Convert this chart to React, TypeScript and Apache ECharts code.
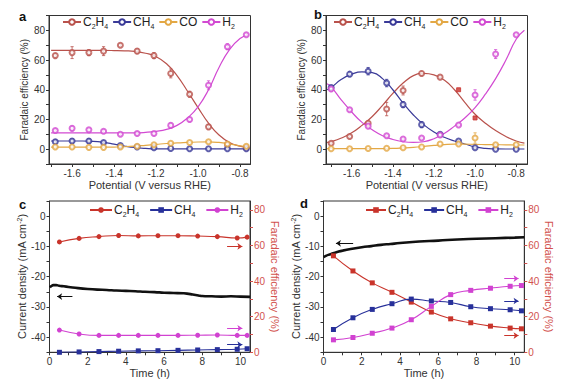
import React, { useEffect, useRef } from 'react';
import * as echarts from 'echarts';

// ---------- Panel a ----------
const aPot = [-1.68, -1.60, -1.52, -1.45, -1.37, -1.29, -1.21, -1.13, -1.04, -0.95, -0.86, -0.77];
const aC2H4 = [63, 65, 65, 66, 70, 66, 63, 51, 37, 15, 3, 1];
const aC2H4Err = [1.5, 4, 2, 3, 1, 1.5, 2, 3, 2, 1.5, 1, 1];
const aCH4 = [5, 5.5, 5.5, 4.5, 2.5, 1.5, 1, 0.5, 0.3, 0.3, 0.3, 0.3];
const aCH4Err = [1.5, 1.5, 1.5, 1, 0.5, 0.5, 0, 0, 0, 0, 0, 0];
const aCO = [1.5, 1.5, 1.2, 1.2, 1.5, 2, 3, 4, 4.5, 5, 3.5, 2];
const aH2 = [12.5, 14, 13, 12, 10, 10.5, 10.5, 16, 20, 43, 69, 77];
const aH2Err = [1, 1.5, 1, 1, 1, 1, 1, 1.5, 1.5, 3, 2, 1];
const aFitX = [-1.70, -1.65, -1.60, -1.55, -1.50, -1.45, -1.40, -1.35, -1.30, -1.25, -1.20, -1.15, -1.10, -1.05, -1.00, -0.95, -0.90, -0.85, -0.80, -0.76];
const aFitC2H4 = [66.5, 66.5, 66.5, 66.5, 66.5, 66.5, 66.4, 66.2, 65.8, 64.6, 62.3, 57.5, 49.5, 39, 28, 17.5, 9.5, 4.5, 2, 1];
const aFitCH4 = [5.5, 5.5, 5.5, 5.5, 5.3, 4.6, 3.4, 2.1, 1.1, 0.5, 0.2, 0.2, 0.2, 0.2, 0.2, 0.2, 0.2, 0.2, 0.2, 0.2];
const aFitCO = [1.3, 1.3, 1.3, 1.3, 1.3, 1.3, 1.4, 1.6, 2.0, 2.6, 3.2, 3.8, 4.2, 4.5, 4.8, 4.9, 4.5, 3.5, 2.2, 1.5];
const aFitH2 = [11, 11, 11, 11, 11, 11, 11, 11, 11, 11.3, 12, 13.3, 16, 21, 28.5, 40, 55, 67, 74.5, 77];

// ---------- Panel b ----------
const bPot = [-1.70, -1.61, -1.52, -1.43, -1.35, -1.26, -1.17, -1.08, -1.00, -0.90, -0.80];
const bC2H4 = [4, 8.5, 17.5, 27, 39.5, 51, 48.5, null, null, null, null];
const bC2H4Solid = [null, null, null, null, null, null, null, 40, 21, null, null];
const bC2H4Err = [0.5, 1, 1, 4.5, 3, 1.5, 1, 0, 0, 0, 0];
const bCH4 = [41.5, 50.5, 52.5, 44.5, 30, 16.5, 10, 5.5, 1, 0, 0];
const bCH4Err = [1.5, 1.5, 2.5, 2.5, 2, 2, 1, 0.5, 0.5, 0, 0];
const bCO = [0.3, 0.3, 0.4, 0.6, 1, 1.5, 3.5, 3.5, 7.5, 3, 3];
const bCOErr = [0, 0, 0, 0, 0, 0, 0, 0, 3.5, 0, 0];
const bH2 = [40.5, 26.5, 15.5, 9, 6.8, 7.5, 9.5, 16.3, 36.5, 64, 77];
const bH2Err = [1.5, 1, 1, 0.5, 0.5, 0.5, 0.5, 0.5, 3.5, 3, 0.5];
const bFitX = [-1.72, -1.70, -1.65, -1.60, -1.55, -1.50, -1.45, -1.40, -1.35, -1.30, -1.25, -1.20, -1.15, -1.10, -1.05, -1.00, -0.95, -0.90, -0.85, -0.80, -0.76];
const bFitC2H4 = [4.5, 5, 7.5, 11, 16, 22, 29.5, 37.5, 44.5, 49.5, 51, 50, 46.5, 40, 31.5, 23.5, 17.5, 12.5, 8.5, 5.5, 4];
const bFitCH4 = [40, 41.5, 47, 50.5, 52, 51.5, 47.5, 40, 31, 23, 16.5, 11.5, 8, 5.5, 3.5, 1.5, 0.5, 0.2, 0.1, 0.1, 0.1];
const bFitCO = [0.3, 0.3, 0.3, 0.3, 0.3, 0.4, 0.4, 0.5, 0.8, 1.2, 1.8, 2.5, 3.1, 3.4, 3.4, 3.2, 3.1, 3.0, 2.9, 2.8, 2.8];
const bFitH2 = [44, 42, 33, 25, 18, 13, 9, 6.5, 5, 4.5, 5, 7, 10.5, 15.5, 21, 28, 37, 47.5, 60, 74, 80];

// ---------- Panel c ----------
const cTime = [0.52, 1.55, 2.59, 3.62, 4.65, 5.68, 6.73, 7.76, 8.79, 9.83, 10.35];
const cC2H4 = [62, 64, 65, 65.6, 65.4, 65.5, 65.5, 65.3, 65, 64.2, 64.7];
const cCH4 = [0, 0.2, 0.4, 0.6, 0.8, 0.9, 1.1, 1.3, 1.5, 1.7, 2];
const cH2 = [12.5, 10.3, 9.5, 9.5, 9.5, 9.5, 9.5, 9.6, 9.7, 9.5, 9.5];
const cCurT = [0.02, 0.1, 0.2, 0.35, 0.5, 0.75, 1, 1.5, 2, 2.5, 3, 3.5, 4, 4.5, 5, 5.5, 6, 6.5, 7, 7.2, 7.5, 7.8, 8, 8.5, 9, 9.5, 10, 10.5];
const cCur = [-23.6, -23.1, -22.8, -22.8, -23.0, -23.2, -23.4, -23.8, -24.1, -24.3, -24.4, -24.6, -24.7, -24.8, -25.0, -25.1, -25.3, -25.4, -25.5, -25.6, -25.9, -26.2, -26.4, -26.5, -26.6, -26.5, -26.6, -26.7];

// ---------- Panel d ----------
const dTime = [0.52, 1.54, 2.55, 3.58, 4.59, 5.64, 6.65, 7.7, 8.73, 9.76, 10.35];
const dC2H4 = [54.2, 45.7, 39, 33.7, 28.2, 22.6, 18.8, 16.6, 14.7, 13.6, 13.2];
const dCH4 = [12.8, 19.4, 24.1, 27.3, 29.9, 28.8, 28, 25.6, 24.5, 23.9, 23.3];
const dH2 = [7, 8.3, 10.7, 13.6, 18.3, 25.8, 32.4, 34.8, 36, 37.1, 37.5];
const dCurT = [0, 0.1, 0.25, 0.5, 0.75, 1, 1.5, 2, 2.5, 3, 3.5, 4, 5, 6, 7, 8, 9, 10, 10.5];
const dCur = [-13.5, -13.2, -12.8, -12.3, -11.8, -11.4, -10.8, -10.3, -9.9, -9.5, -9.2, -8.9, -8.4, -8.1, -7.7, -7.5, -7.3, -7.1, -7.0];

// ---------- Tick labels ----------
const potLabels = [-1.6, -1.4, -1.2, -1.0, -0.8];
const potTicks = [-1.7, -1.6, -1.5, -1.4, -1.3, -1.2, -1.1, -1.0, -0.9, -0.8];
const feLabels = [0, 20, 40, 60, 80];
const feTicks = [-10, 0, 10, 20, 30, 40, 50, 60, 70, 80, 90];
const timeLabels = [0, 2, 4, 6, 8, 10];
const timeTicks = [0, 1, 2, 3, 4, 5, 6, 7, 8, 9, 10];
const curLabels = [-40, -30, -20, -10, 0];
const curTicks = [-45, -40, -35, -30, -25, -20, -15, -10, -5, 0, 5];
const feRLabels = [0, 20, 40, 60, 80];
const feRTicks = [0, 10, 20, 30, 40, 50, 60, 70, 80];

const FONT = '"Liberation Sans", Arial, Helvetica, sans-serif';
const AX = '#333';
const RED_A = '#b9524c';
const BLUE_A = '#3a3a98';
const ORANGE = '#e3a845';
const MAG = '#d24ad2';
const RED_C = '#c9342b';
const BLUE_C = '#27309a';
const MAG_C = '#d142d1';
const RIGHT_RED = '#d2524e';

const pairs = (xs: number[], ys: (number | null)[]) =>
  xs.map((x, i) => [x, ys[i]]).filter((p) => p[1] !== null && p[1] !== undefined);
const errs = (xs: number[], ys: (number | null)[], es: number[]) =>
  xs
    .map((x, i) => (ys[i] === null || !es[i] ? null : [x, (ys[i] as number) - es[i], (ys[i] as number) + es[i]]))
    .filter((p) => p !== null);

function errRender(color: string) {
  return (params: any, api: any) => {
    const x = api.value(0);
    const a = api.coord([x, api.value(1)]);
    const b = api.coord([x, api.value(2)]);
    const w = 1.6;
    const st = { stroke: color, lineWidth: 0.8 };
    return {
      type: 'group',
      children: [
        { type: 'line', shape: { x1: a[0], y1: a[1], x2: b[0], y2: b[1] }, style: st },
        { type: 'line', shape: { x1: a[0] - w, y1: a[1], x2: a[0] + w, y2: a[1] }, style: st },
        { type: 'line', shape: { x1: b[0] - w, y1: b[1], x2: b[0] + w, y2: b[1] }, style: st },
      ],
    };
  };
}

const labelName = (name: string) => {
  const k = name.slice(1);
  if (k === 'C2H4') return 'C{s|2}H{s|4}';
  if (k === 'CH4') return 'CH{s|4}';
  if (k === 'H2') return 'H{s|2}';
  return k;
};

function legend(prefix: string, keys: string[], left: number, top: number, itemWidth: number, itemGap: number) {
  return {
    data: keys.map((k) => prefix + k),
    left,
    top,
    orient: 'horizontal',
    itemWidth,
    itemHeight: 7,
    itemGap,
    padding: 0,
    formatter: labelName,
    selectedMode: false,
    textStyle: {
      fontFamily: FONT,
      fontSize: 12,
      color: '#222',
      padding: [0, 0, 0, -3],
      rich: { s: { fontFamily: FONT, fontSize: 7, color: '#222', verticalAlign: 'bottom', lineHeight: 16 } },
    },
  };
}

function xAx(grid: number, min: number, max: number, labels: number[], ticks: number[], name: string, fmt: (v: number) => string) {
  return {
    type: 'value',
    gridIndex: grid,
    min,
    max,
    name,
    nameLocation: 'middle',
    nameGap: 15,
    nameTextStyle: { fontFamily: FONT, fontSize: 11, color: '#333' },
    axisLine: { show: true, onZero: false, lineStyle: { color: AX, width: 1 } },
    axisTick: { show: true, length: 3, customValues: ticks, lineStyle: { color: AX } },
    axisLabel: { customValues: labels, formatter: fmt, margin: 4, fontFamily: FONT, fontSize: 10, color: '#333' },
    splitLine: { show: false },
  };
}

function yAx(grid: number, min: number, max: number, labels: number[], ticks: number[], name: any, opts: any = {}) {
  const color = opts.color || '#333';
  return {
    type: 'value',
    gridIndex: grid,
    min,
    max,
    position: opts.position || 'left',
    name,
    nameLocation: 'middle',
    nameGap: opts.nameGap || 18,
    nameRotate: opts.nameRotate,
    nameTextStyle: {
      fontFamily: FONT,
      fontSize: opts.nameSize || 10,
      color: opts.nameColor || '#333',
      rich: { sup: { fontFamily: FONT, fontSize: 7, color: opts.nameColor || '#333', verticalAlign: 'top', lineHeight: 10 } },
    },
    axisLine: { show: true, onZero: false, lineStyle: { color: opts.lineColor || AX, width: 1 } },
    axisTick: { show: true, length: 3, customValues: ticks, lineStyle: { color: opts.tickColor || AX } },
    axisLabel: { customValues: labels, margin: 4, fontFamily: FONT, fontSize: 10, color },
    splitLine: { show: false },
  };
}

function fitLine(name: string, xi: number, yi: number, xs: number[], ys: number[], color: string) {
  return {
    type: 'line',
    name,
    xAxisIndex: xi,
    yAxisIndex: yi,
    data: pairs(xs, ys),
    smooth: true,
    symbol: 'emptyCircle',
    symbolSize: 5,
    showSymbol: false,
    lineStyle: { color, width: 1.2 },
    itemStyle: { color, borderColor: color, borderWidth: 1 },
    z: 2,
  };
}

function pts(name: string, xi: number, yi: number, xs: number[], ys: (number | null)[], color: string, symbol = 'emptyCircle', size = 5) {
  return {
    type: 'scatter',
    name,
    xAxisIndex: xi,
    yAxisIndex: yi,
    data: pairs(xs, ys),
    symbol,
    symbolSize: size,
    itemStyle: { color, borderColor: color, borderWidth: 1 },
    z: 4,
  };
}

function errSeries(xi: number, yi: number, xs: number[], ys: (number | null)[], es: number[], color: string) {
  return {
    type: 'custom',
    xAxisIndex: xi,
    yAxisIndex: yi,
    data: errs(xs, ys, es),
    encode: { x: 0, y: [1, 2] },
    renderItem: errRender(color),
    silent: true,
    z: 3,
  };
}

function arrow(x1: number, x2: number, y: number) {
  return [
    { coord: [x1, y], symbol: 'none' },
    { coord: [x2, y], symbol: 'arrow', symbolSize: 5 },
  ];
}

function markLines(items: any[], color: string) {
  return {
    silent: true,
    animation: false,
    label: { show: false },
    lineStyle: { color, width: 1, type: 'solid' },
    symbolSize: 5,
    data: items,
  };
}

function fePoint(name: string, xi: number, yi: number, xs: number[], ys: number[], color: string, symbol: string, ml?: any) {
  const s: any = {
    type: 'line',
    name,
    xAxisIndex: xi,
    yAxisIndex: yi,
    data: pairs(xs, ys),
    smooth: true,
    symbol,
    symbolSize: 5,
    showSymbol: true,
    lineStyle: { color, width: 1.1 },
    itemStyle: { color },
    z: 4,
  };
  if (ml) s.markLine = ml;
  return s;
}

const potFmt = (v: number) => v.toFixed(1);
const intFmt = (v: number) => String(Math.round(v));
const letter = (t: string, left: number, top: number) => ({
  type: 'text', left, top, style: { text: t, fontFamily: FONT, fontSize: 13, fontWeight: 'bold', fill: '#111' },
});

export default function App() {
  const ref = useRef<HTMLDivElement>(null);
  useEffect(() => {
    if (!ref.current) return;
    const chart = echarts.init(ref.current, undefined, { renderer: 'svg' });
    const gridStyle = { show: true, borderColor: AX, borderWidth: 1, backgroundColor: 'transparent', containLabel: false };
    const option: any = {
      animation: false,
      backgroundColor: '#fff',
      textStyle: { fontFamily: FONT },
      grid: [
        { ...gridStyle, left: 49, top: 15.5, width: 201.5, height: 148.5 },
        { ...gridStyle, left: 326, top: 15.5, width: 201.5, height: 148.5 },
        { ...gridStyle, left: 49.5, top: 201, width: 200.5, height: 151.3 },
        { ...gridStyle, left: 323.5, top: 201, width: 200.8, height: 151.3 },
      ],
      xAxis: [
        xAx(0, -1.71, -0.75, potLabels, potTicks, 'Potential (V versus RHE)', potFmt),
        xAx(1, -1.725, -0.745, potLabels, potTicks, 'Potential (V versus RHE)', potFmt),
        xAx(2, 0, 10.5, timeLabels, timeTicks, 'Time (h)', intFmt),
        xAx(3, 0, 10.5, timeLabels, timeTicks, 'Time (h)', intFmt),
      ],
      yAxis: [
        yAx(0, -10, 90, feLabels, feTicks, 'Faradaic efficiency (%)', { nameGap: 19 }),
        yAx(1, -10, 90, feLabels, feTicks, 'Faradaic efficiency (%)', { nameGap: 19 }),
        yAx(2, -45, 5, curLabels, curTicks, 'Current density (mA cm{sup|-2})', { nameGap: 17, nameSize: 11 }),
        yAx(2, 0, 85, feRLabels, feRTicks, 'Faradaic efficiency (%)', {
          position: 'right', nameRotate: -90, nameGap: 14, nameSize: 11, color: RIGHT_RED, nameColor: RIGHT_RED, tickColor: RIGHT_RED,
        }),
        yAx(3, -45, 5, curLabels, curTicks, 'Current density (mA cm{sup|-2})', { nameGap: 17, nameSize: 11 }),
        yAx(3, 0, 85, feRLabels, feRTicks, 'Faradaic efficiency (%)', {
          position: 'right', nameRotate: -90, nameGap: 16, nameSize: 11, color: RIGHT_RED, nameColor: RIGHT_RED, tickColor: RIGHT_RED,
        }),
      ],
      legend: [
        legend('a', ['C2H4', 'CH4', 'CO', 'H2'], 62, 16, 18, 4),
        legend('b', ['C2H4', 'CH4', 'CO', 'H2'], 333, 16, 18, 4),
        legend('c', ['C2H4', 'CH4', 'H2'], 89, 204, 22, 10),
        legend('d', ['C2H4', 'CH4', 'H2'], 365, 204, 20, 10),
      ],
      graphic: [letter('a', 19, 10), letter('b', 314, 8), letter('c', 19, 198), letter('d', 300, 197)],
      series: [
        // panel a
        fitLine('aC2H4', 0, 0, aFitX, aFitC2H4, RED_A),
        fitLine('aCH4', 0, 0, aFitX, aFitCH4, BLUE_A),
        fitLine('aCO', 0, 0, aFitX, aFitCO, ORANGE),
        fitLine('aH2', 0, 0, aFitX, aFitH2, MAG),
        errSeries(0, 0, aPot, aC2H4, aC2H4Err, RED_A),
        errSeries(0, 0, aPot, aCH4, aCH4Err, BLUE_A),
        errSeries(0, 0, aPot, aH2, aH2Err, MAG),
        pts('aC2H4p', 0, 0, aPot, aC2H4, RED_A),
        pts('aCH4p', 0, 0, aPot, aCH4, BLUE_A),
        pts('aCOp', 0, 0, aPot, aCO, ORANGE),
        pts('aH2p', 0, 0, aPot, aH2, MAG),
        // panel b
        fitLine('bC2H4', 1, 1, bFitX, bFitC2H4, RED_A),
        fitLine('bCH4', 1, 1, bFitX, bFitCH4, BLUE_A),
        fitLine('bCO', 1, 1, bFitX, bFitCO, ORANGE),
        fitLine('bH2', 1, 1, bFitX, bFitH2, MAG),
        errSeries(1, 1, bPot, bC2H4, bC2H4Err, RED_A),
        errSeries(1, 1, bPot, bCH4, bCH4Err, BLUE_A),
        errSeries(1, 1, bPot, bCO, bCOErr, ORANGE),
        errSeries(1, 1, bPot, bH2, bH2Err, MAG),
        pts('bC2H4p', 1, 1, bPot, bC2H4, RED_A),
        pts('bC2H4s', 1, 1, bPot, bC2H4Solid, '#c8302c', 'rect', 4),
        pts('bCH4p', 1, 1, bPot, bCH4, BLUE_A),
        pts('bCOp', 1, 1, bPot, bCO, ORANGE),
        pts('bH2p', 1, 1, bPot, bH2, MAG),
        // panel c
        {
          type: 'line', name: 'cCur', xAxisIndex: 2, yAxisIndex: 2, data: pairs(cCurT, cCur), smooth: true,
          symbol: 'none', lineStyle: { color: '#111', width: 2.6 }, z: 3,
          markLine: markLines([arrow(1.2, 0.4, -26.6)], '#111'),
        },
        fePoint('cC2H4', 2, 3, cTime, cC2H4, RED_C, 'circle', markLines([arrow(9.3, 10.1, 59.5)], RED_C)),
        fePoint('cCH4', 2, 3, cTime, cCH4, BLUE_C, 'rect', markLines([arrow(9.3, 10.1, 4.3)], BLUE_C)),
        fePoint('cH2', 2, 3, cTime, cH2, MAG_C, 'circle', markLines([arrow(9.3, 10.1, 13.5)], MAG_C)),
        // panel d
        {
          type: 'line', name: 'dCur', xAxisIndex: 3, yAxisIndex: 4, data: pairs(dCurT, dCur), smooth: true,
          symbol: 'none', lineStyle: { color: '#111', width: 2.6 }, z: 3,
          markLine: markLines([arrow(1.55, 0.65, -9.0)], '#111'),
        },
        fePoint('dC2H4', 3, 5, dTime, dC2H4, RED_C, 'rect', markLines([arrow(9.45, 10.2, 9.4)], RED_C)),
        fePoint('dCH4', 3, 5, dTime, dCH4, BLUE_C, 'rect', markLines([arrow(9.45, 10.2, 28.8)], BLUE_C)),
        fePoint('dH2', 3, 5, dTime, dH2, MAG_C, 'rect', markLines([arrow(9.45, 10.2, 41.4)], MAG_C)),
      ],
    };
    chart.setOption(option);
    return () => chart.dispose();
  }, []);
  return <div ref={ref} style={{ position: 'fixed', left: 0, top: 0, width: 562, height: 388, background: '#fff' }} />;
}
